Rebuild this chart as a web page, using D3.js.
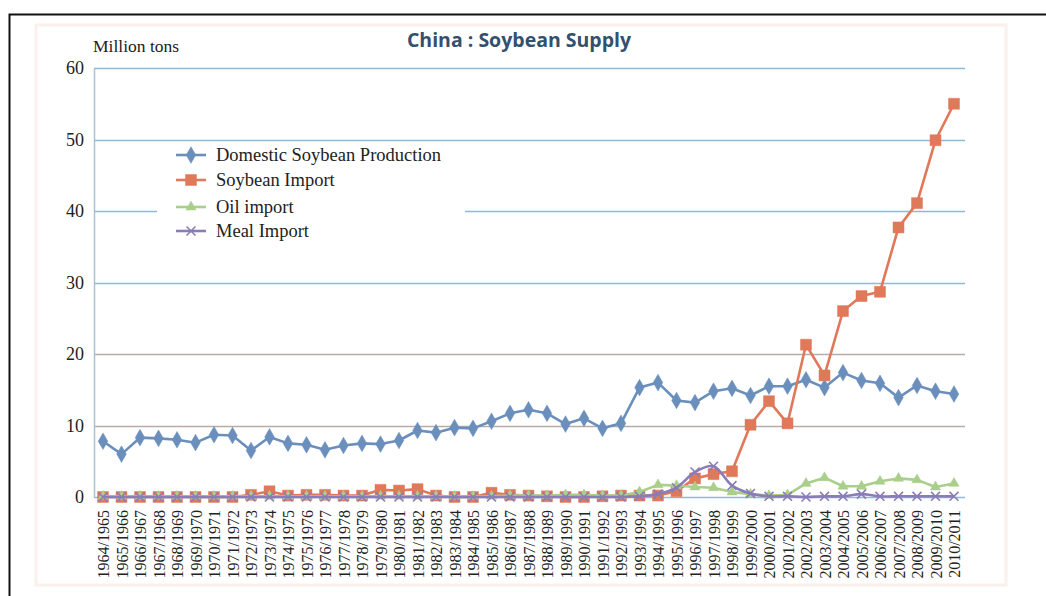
<!DOCTYPE html>
<html>
<head>
<meta charset="utf-8">
<script src="https://cdn.jsdelivr.net/npm/d3@7"></script>
<style>
  html, body { margin: 0; padding: 0; background: #ffffff; }
  svg { display: block; }
</style>
</head>
<body>
<svg id="chart" width="1046" height="596"></svg>
<script>
// Marketing years shown on the category axis
const seasons = [
  "1964/1965","1965/1966","1966/1967","1967/1968","1968/1969","1969/1970","1970/1971","1971/1972",
  "1972/1973","1973/1974","1974/1975","1975/1976","1976/1977","1977/1978","1978/1979","1979/1980",
  "1980/1981","1981/1982","1982/1983","1983/1984","1984/1985","1985/1986","1986/1987","1987/1988",
  "1988/1989","1989/1990","1990/1991","1991/1992","1992/1993","1993/1994","1994/1995","1995/1996",
  "1996/1997","1997/1998","1998/1999","1999/2000","2000/2001","2001/2002","2002/2003","2003/2004",
  "2004/2005","2005/2006","2006/2007","2007/2008","2008/2009","2009/2010","2010/2011"
];

// Million tons
const domesticProduction = [
  7.8, 6.0, 8.3, 8.2, 8.0, 7.6, 8.7, 8.6, 6.5, 8.4,
  7.5, 7.3, 6.6, 7.2, 7.5, 7.4, 7.9, 9.3, 9.0, 9.7,
  9.6, 10.6, 11.7, 12.2, 11.7, 10.2, 11.0, 9.6, 10.3, 15.3,
  16.0, 13.5, 13.2, 14.8, 15.2, 14.2, 15.5, 15.5, 16.4, 15.3,
  17.4, 16.3, 15.9, 13.9, 15.6, 14.8, 14.4
];
const soybeanImport = [
  0.0, 0.0, 0.0, 0.0, 0.0, 0.0, 0.0, 0.0, 0.3, 0.8,
  0.2, 0.3, 0.3, 0.2, 0.2, 1.0, 0.9, 1.1, 0.2, 0.0,
  0.0, 0.6, 0.3, 0.2, 0.1, 0.0, 0.0, 0.1, 0.2, 0.2,
  0.2, 0.8, 2.6, 3.2, 3.6, 10.1, 13.4, 10.3, 21.3, 17.0,
  26.0, 28.1, 28.7, 37.7, 41.1, 49.9, 55.0
];
const oilImport = [
  0.1, 0.1, 0.1, 0.1, 0.1, 0.1, 0.1, 0.1, 0.1, 0.1,
  0.1, 0.1, 0.1, 0.1, 0.1, 0.1, 0.1, 0.1, 0.1, 0.1,
  0.1, 0.1, 0.2, 0.2, 0.2, 0.3, 0.3, 0.2, 0.2, 0.7,
  1.7, 1.6, 1.4, 1.3, 0.7, 0.4, 0.2, 0.3, 1.9, 2.7,
  1.5, 1.5, 2.2, 2.6, 2.4, 1.4, 1.9
];
const mealImport = [
  0.0, 0.0, 0.0, 0.0, 0.0, 0.0, 0.0, 0.0, 0.0, 0.0,
  0.0, 0.0, 0.0, 0.0, 0.0, 0.0, 0.0, 0.0, 0.0, 0.0,
  0.0, 0.0, 0.0, 0.0, 0.0, 0.0, 0.0, 0.0, 0.0, 0.1,
  0.4, 1.3, 3.5, 4.3, 1.6, 0.5, 0.1, 0.1, 0.0, 0.1,
  0.1, 0.4, 0.1, 0.1, 0.1, 0.1, 0.1
];

const yTicks = [0, 10, 20, 30, 40, 50, 60];
const seriesNames = ["Domestic Soybean Production", "Soybean Import", "Oil import", "Meal Import"];

const svg = d3.select("#chart");
const serif = "'Liberation Serif', 'Times New Roman', serif";

// outer frame
svg.append("rect").attr("x", 36).attr("y", 25).attr("width", 970).attr("height", 560)
  .attr("fill", "none").attr("stroke", "#faf0ec").attr("stroke-width", 3);
svg.append("path").attr("d", "M9.5,596 V14.5 H1046")
  .attr("fill", "none").attr("stroke", "#111").attr("stroke-width", 2);

const x = d3.scalePoint().domain(seasons).range([103, 954]);
const y = d3.scaleLinear().domain([0, 60]).range([497, 68]);

// horizontal gridlines
const gridColor = v => (v === 10 || v === 20) ? "#b6aca8" : "#8dbad6";
svg.append("g").selectAll("line").data(yTicks).join("line")
  .attr("x1", 94).attr("x2", 965)
  .attr("y1", d => Math.round(y(d)) + 0.5).attr("y2", d => Math.round(y(d)) + 0.5)
  .attr("stroke", gridColor).attr("stroke-width", 1.6);

// y axis
const yAxis = svg.append("g").attr("transform", "translate(94,0)")
  .call(d3.axisLeft(y).tickValues(yTicks).tickSize(0).tickPadding(10).tickFormat(d3.format("d")));
yAxis.select(".domain").attr("stroke", "#a9c2d4").attr("stroke-width", 1.5);
yAxis.selectAll("text").attr("font-family", serif).attr("font-size", 18).attr("fill", "#222");

svg.append("text").attr("x", 93).attr("y", 52)
  .attr("font-family", serif).attr("font-size", 17.5).attr("fill", "#222")
  .text("Million tons");

// title
svg.append("text").attr("x", 519).attr("y", 47).attr("text-anchor", "middle")
  .attr("font-family", "'Open Sans', 'Noto Sans', sans-serif").attr("font-weight", 700)
  .attr("font-size", 19.5).attr("fill", "#33506c")
  .text("China : Soybean Supply");

// x axis labels
const xAxis = svg.append("g").attr("transform", "translate(0,505)")
  .call(d3.axisBottom(x).tickSize(0).tickPadding(0));
xAxis.select(".domain").remove();
xAxis.selectAll("text")
  .attr("font-family", serif).attr("font-size", 16).attr("fill", "#222")
  .attr("text-anchor", "end").attr("dy", "0.35em")
  .attr("transform", "translate(0,5) rotate(-90)")
  .attr("x", 0).attr("y", 0);

// marker shapes
const symX = {
  draw(ctx, size) {
    const r = Math.sqrt(size) / 2;
    ctx.moveTo(-r, -r); ctx.lineTo(r, r);
    ctx.moveTo(r, -r); ctx.lineTo(-r, r);
  }
};

const series = [
  { name: seriesNames[0], values: domesticProduction, color: "#6b8fbd", symbol: d3.symbolDiamond, size: 80, stroke: false, curve: d3.curveLinear },
  { name: seriesNames[1], values: soybeanImport, color: "#e0785a", symbol: d3.symbolSquare, size: 120, stroke: false, curve: d3.curveLinear },
  { name: seriesNames[2], values: oilImport, color: "#a9cf8a", symbol: d3.symbolTriangle, size: 45, stroke: false, curve: d3.curveLinear },
  { name: seriesNames[3], values: mealImport, color: "#8a7cb8", symbol: symX, size: 80, stroke: true, curve: d3.curveCatmullRom.alpha(0.5) }
];

series.forEach(s => {
  const g = svg.append("g");
  const pts = s.values.map((v, i) => [x(seasons[i]), y(v)]);
  g.append("path").datum(pts)
    .attr("d", d3.line().curve(s.curve))
    .attr("fill", "none").attr("stroke", s.color).attr("stroke-width", 2.6)
    .attr("stroke-linejoin", "round");
  g.selectAll("path.m").data(pts).join("path").attr("class", "m")
    .attr("transform", d => `translate(${d[0]},${d[1]})`)
    .attr("d", d3.symbol().type(s.symbol).size(s.size))
    .attr("fill", s.stroke ? "none" : s.color)
    .attr("stroke", s.color).attr("stroke-width", s.stroke ? 1.6 : 0.5);
});

// legend
const legend = svg.append("g");
legend.append("rect").attr("x", 157).attr("y", 145).attr("width", 308).attr("height", 106).attr("fill", "#fff");
const legendY = [155, 180, 207, 231];
series.forEach((s, i) => {
  const ly = legendY[i];
  legend.append("line").attr("x1", 176).attr("x2", 206).attr("y1", ly).attr("y2", ly)
    .attr("stroke", s.color).attr("stroke-width", 2.6);
  legend.append("path").attr("transform", `translate(191,${ly})`)
    .attr("d", d3.symbol().type(s.symbol).size(s.size))
    .attr("fill", s.stroke ? "none" : s.color)
    .attr("stroke", s.color).attr("stroke-width", s.stroke ? 1.6 : 0.5);
  legend.append("text").attr("x", 216).attr("y", ly).attr("dy", "0.33em")
    .attr("font-family", serif).attr("font-size", 18.5).attr("fill", "#222")
    .text(s.name);
});
</script>
</body>
</html>
